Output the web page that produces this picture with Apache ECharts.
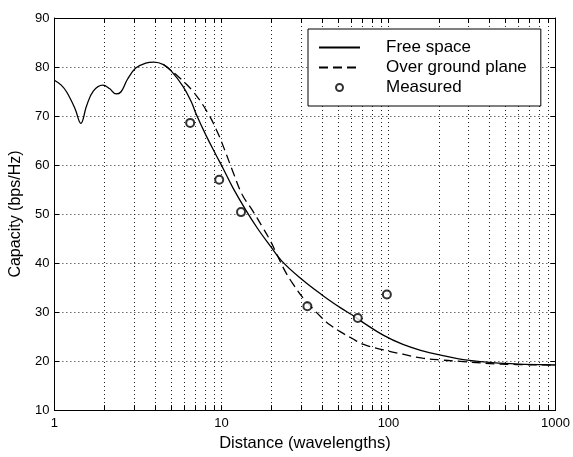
<!DOCTYPE html>
<html>
<head>
<meta charset="utf-8">
<script src="https://cdn.jsdelivr.net/npm/echarts@6/dist/echarts.min.js"></script>
<style>
  html, body { margin: 0; padding: 0; background: #fff; }
  #capacity { width: 573px; height: 457px; }
</style>
</head>
<body>
<div id="capacity"></div>
<script>
// distance (wavelengths) / capacity (bps/Hz)
var freeX = [1, 1.1, 1.19, 1.33, 1.44, 1.56, 1.71, 1.95, 2.14, 2.34, 2.5, 2.74, 3.07, 3.52, 3.94, 4.5, 5,
    5.9, 6.6, 7.1, 8.1, 9.3, 10.2, 11.7, 14, 16.5, 19.6, 23, 30, 40, 52, 60, 71, 93, 122, 160, 200, 280, 455, 1000];
var freeY = [77.3, 76.3, 74.8, 71.5, 68.5, 72.1, 75.1, 76.3, 75.6, 74.5, 74.9, 77.5, 79.8, 80.8, 81.0, 80.5, 79.2,
    76.0, 72.9, 70.2, 66.0, 62.0, 59.4, 55.4, 50.8, 47.0, 43.5, 40.4, 36.8, 33.5, 30.8, 29.5, 27.8, 25.3, 23.4, 22.1, 21.3, 20.3, 19.6, 19.2];

var groundX = [4.5, 5.53, 6.77, 8.3, 9.5, 10.4, 11.7, 13.3, 15.3, 17.5, 19.6, 21, 24, 27, 31, 40, 45, 52, 60, 71, 93, 122, 160, 210, 280, 455, 1000];
var groundY = [80.5, 78.0, 75.0, 70.6, 66.6, 63.3, 58.7, 54.0, 50.8, 47.5, 44.6, 42.5, 38.4, 35.6, 32.8, 28.8, 27.3, 25.9, 24.7, 23.4, 22.3, 21.4, 20.6, 20.2, 19.9, 19.4, 19.2];

var measX = [6.5, 9.7, 13.1, 32.7, 65.5, 97.8];
var measY = [68.6, 57.0, 50.4, 31.2, 28.8, 33.6];

// log axis ticks 1..9 per decade, labels only at decades
var xTicks = [1, 2, 3, 4, 5, 6, 7, 8, 9, 10, 20, 30, 40, 50, 60, 70, 80, 90, 100, 200, 300, 400, 500, 600, 700, 800, 900, 1000];
var xLabels = [1, 10, 100, 1000];

function pairs(xs, ys) {
    var out = [];
    for (var i = 0; i < xs.length; i++) {
        out.push([xs[i], ys[i]]);
    }
    return out;
}

var font = "'Liberation Sans', Arial, sans-serif";
var myChart = echarts.init(document.getElementById('capacity'), null, { renderer: 'canvas' });

var option = {
    animation: false,
    backgroundColor: '#fff',
    textStyle: { fontFamily: font, color: '#000' },
    grid: { left: 49, right: 15, top: 18, bottom: 39 },
    legend: {
        orient: 'vertical',
        left: 308,
        top: 29,
        padding: [10, 14, 10, 10],
        itemGap: 3,
        itemWidth: 41,
        itemHeight: 7,
        backgroundColor: '#fff',
        borderColor: '#000',
        borderWidth: 1,
        borderRadius: 0,
        textStyle: { fontFamily: font, fontSize: 17, lineHeight: 16, color: '#000', padding: [0, 0, 0, 21] },
        data: [
            { name: 'Free space', itemStyle: { opacity: 0 } },
            { name: 'Over ground plane', itemStyle: { opacity: 0 } },
            { name: 'Measured' }
        ]
    },
    xAxis: [{
        type: 'log',
        logBase: 10,
        min: 1,
        max: 1000,
        name: 'Distance (wavelengths)',
        nameLocation: 'middle',
        nameGap: 20,
        nameTextStyle: { fontFamily: font, fontSize: 16.5, color: '#000' },
        axisLine: { lineStyle: { color: '#000', width: 1 } },
        axisTick: { inside: true, length: 5, customValues: xTicks, lineStyle: { color: '#000' } },
        axisLabel: {
            customValues: xLabels, margin: 7, fontSize: 13, color: '#000', fontFamily: font,
            formatter: function (v) { return String(v); }
        },
        splitLine: { show: true, lineStyle: { color: '#222', type: [1, 3], width: 1 } }
    }, {
        type: 'log',
        logBase: 10,
        min: 1,
        max: 1000,
        position: 'top',
        axisLine: { lineStyle: { color: '#000', width: 1 } },
        axisTick: { inside: true, length: 5, customValues: xTicks, lineStyle: { color: '#000' } },
        axisLabel: { show: false },
        splitLine: { show: false }
    }],
    yAxis: [{
        type: 'value',
        min: 10,
        max: 90,
        interval: 10,
        name: 'Capacity (bps/Hz)',
        nameLocation: 'middle',
        nameGap: 20,
        nameTextStyle: { fontFamily: font, fontSize: 16, color: '#000' },
        axisLine: { show: true, lineStyle: { color: '#000', width: 1 } },
        axisTick: { show: true, inside: true, length: 5, lineStyle: { color: '#000' } },
        axisLabel: { margin: 5, fontSize: 13, color: '#000', fontFamily: font },
        splitLine: { show: true, lineStyle: { color: '#222', type: [1, 3], width: 1 } }
    }, {
        type: 'value',
        min: 10,
        max: 90,
        interval: 10,
        position: 'right',
        axisLine: { show: true, lineStyle: { color: '#000', width: 1 } },
        axisTick: { show: true, inside: true, length: 5, lineStyle: { color: '#000' } },
        axisLabel: { show: false },
        splitLine: { show: false }
    }],
    series: [{
        name: 'Free space',
        type: 'line',
        data: pairs(freeX, freeY),
        symbol: 'none',
        smooth: 0.4,
        lineStyle: { color: '#000', width: 1.3 },
        itemStyle: { color: '#000' },
        z: 3
    }, {
        name: 'Over ground plane',
        type: 'line',
        data: pairs(groundX, groundY),
        symbol: 'none',
        smooth: 0.4,
        lineStyle: { color: '#000', width: 1.3, type: [9, 5] },
        itemStyle: { color: '#000' },
        z: 3
    }, {
        name: 'Measured',
        type: 'scatter',
        data: pairs(measX, measY),
        symbol: 'emptyCircle',
        symbolSize: 8,
        itemStyle: { color: '#000', borderColor: '#000', borderWidth: 1 },
        z: 4
    }]
};

myChart.setOption(option);
</script>
</body>
</html>
